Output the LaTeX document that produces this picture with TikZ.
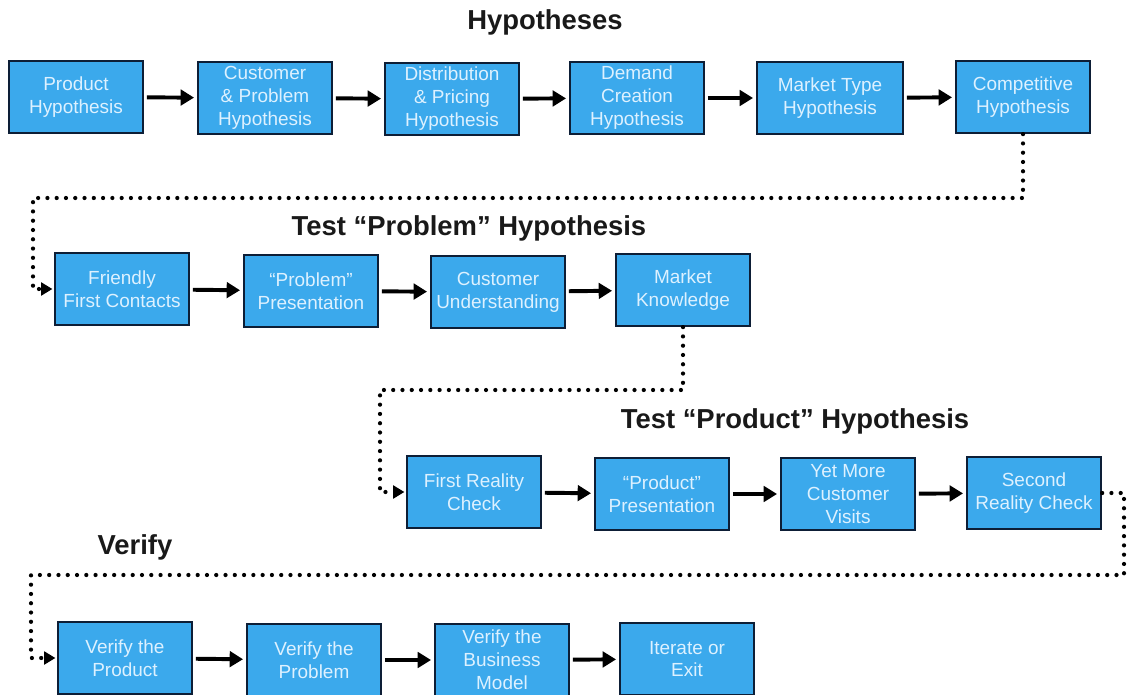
\documentclass[tikz,border=0pt]{standalone}
\usepackage{fontspec}
\setmainfont{Liberation Sans}
\usetikzlibrary{arrows.meta, positioning, calc}

\definecolor{boxblue}{HTML}{3BA9EC}
\definecolor{boxline}{HTML}{0D1E36}
\definecolor{boxtext}{HTML}{DDF1FF}

\tikzset{
  stage/.style={draw=boxline, line width=1.6pt, fill=boxblue, text=boxtext,
    minimum width=3.35cm, minimum height=1.8cm, inner xsep=1pt, inner ysep=0pt,
    align=center, font=\fontsize{13.5}{16.3}\selectfont},
  flow/.style={line width=2.8pt, -{Triangle[length=9.5pt,width=11pt]},
    shorten <=2pt, shorten >=2pt},
  dotflow/.style={line width=3pt, line cap=round, dash pattern=on 0pt off 6.6pt,
    -{Triangle[length=8pt,width=9pt]}, shorten >=1pt},
  heading/.style={font=\fontsize{19.5}{22}\selectfont\bfseries, text=black!90}
}

\begin{document}
\begin{tikzpicture}[x=0.025cm, y=-0.025cm]
\useasboundingbox (0,0) rectangle (1128,695);

% Hypotheses
\node[heading] (hHyp) at (545,22) {Hypotheses};
\node[stage] (prod) at (76,97) {Product\\Hypothesis};
\node[stage] (cust) at (265,98) {Customer\\\&~Problem\\Hypothesis};
\node[stage] (dist) at (452,99) {Distribution\\\&~Pricing\\Hypothesis};
\node[stage] (dem)  at (637,98) {Demand\\Creation\\Hypothesis};
\node[stage, minimum width=3.65cm] (mkt) at (830,98) {Market Type\\Hypothesis};
\node[stage] (comp) at (1023,97) {Competitive\\Hypothesis};
\draw[flow] (prod) -- (cust);
\draw[flow] (cust) -- (dist);
\draw[flow] (dist) -- (dem);
\draw[flow] (dem) -- (mkt);
\draw[flow] (mkt) -- (comp);

% Test "Problem" Hypothesis
\node[heading] (hProb) at (469,228) {Test “Problem” Hypothesis};
\node[stage] (frnd) at (122,289) {Friendly\\First Contacts};
\node[stage] (pres) at (311,291) {“Problem”\\Presentation};
\node[stage] (undr) at (498,292) {Customer\\Understanding};
\node[stage] (know) at (683,290) {Market\\Knowledge};
\draw[flow] (frnd) -- (pres);
\draw[flow] (pres) -- (undr);
\draw[flow] (undr) -- (know);

% Test "Product" Hypothesis
\node[heading] (hProd) at (795,421) {Test “Product” Hypothesis};
\node[stage] (real) at (474,492) {First Reality\\Check};
\node[stage] (ppres) at (662,494) {“Product”\\Presentation};
\node[stage] (visit) at (848,494) {Yet More\\Customer\\Visits};
\node[stage] (again) at (1034,493) {Second\\Reality Check};
\draw[flow] (real) -- (ppres);
\draw[flow] (ppres) -- (visit);
\draw[flow] (visit) -- (again);

% Verify
\node[heading] (hVer) at (135,547) {Verify};
\node[stage] (vprod) at (125,658) {Verify the\\Product};
\node[stage] (vprob) at (314,660) {Verify the\\Problem};
\node[stage] (vbiz)  at (502,660) {Verify the\\Business\\Model};
\node[stage] (iter)  at (687,659) {Iterate or\\Exit};
\draw[flow] (vprod) -- (vprob);
\draw[flow] (vprob) -- (vbiz);
\draw[flow] (vbiz) -- (iter);

% dotted links between the rows
\coordinate (turnA) at (33,198);
\coordinate (turnB) at (380,390);
\coordinate (turnC) at (1124,575);
\coordinate (turnD) at (31,575);
\draw[dotflow] (comp.south) |- (turnA) |- (frnd.west);
\draw[dotflow] (know.south) |- (turnB) |- (real.west);
\draw[dotflow] (again.east) -| (turnC) -- (turnD) |- (vprod.west);
\end{tikzpicture}
\end{document}
